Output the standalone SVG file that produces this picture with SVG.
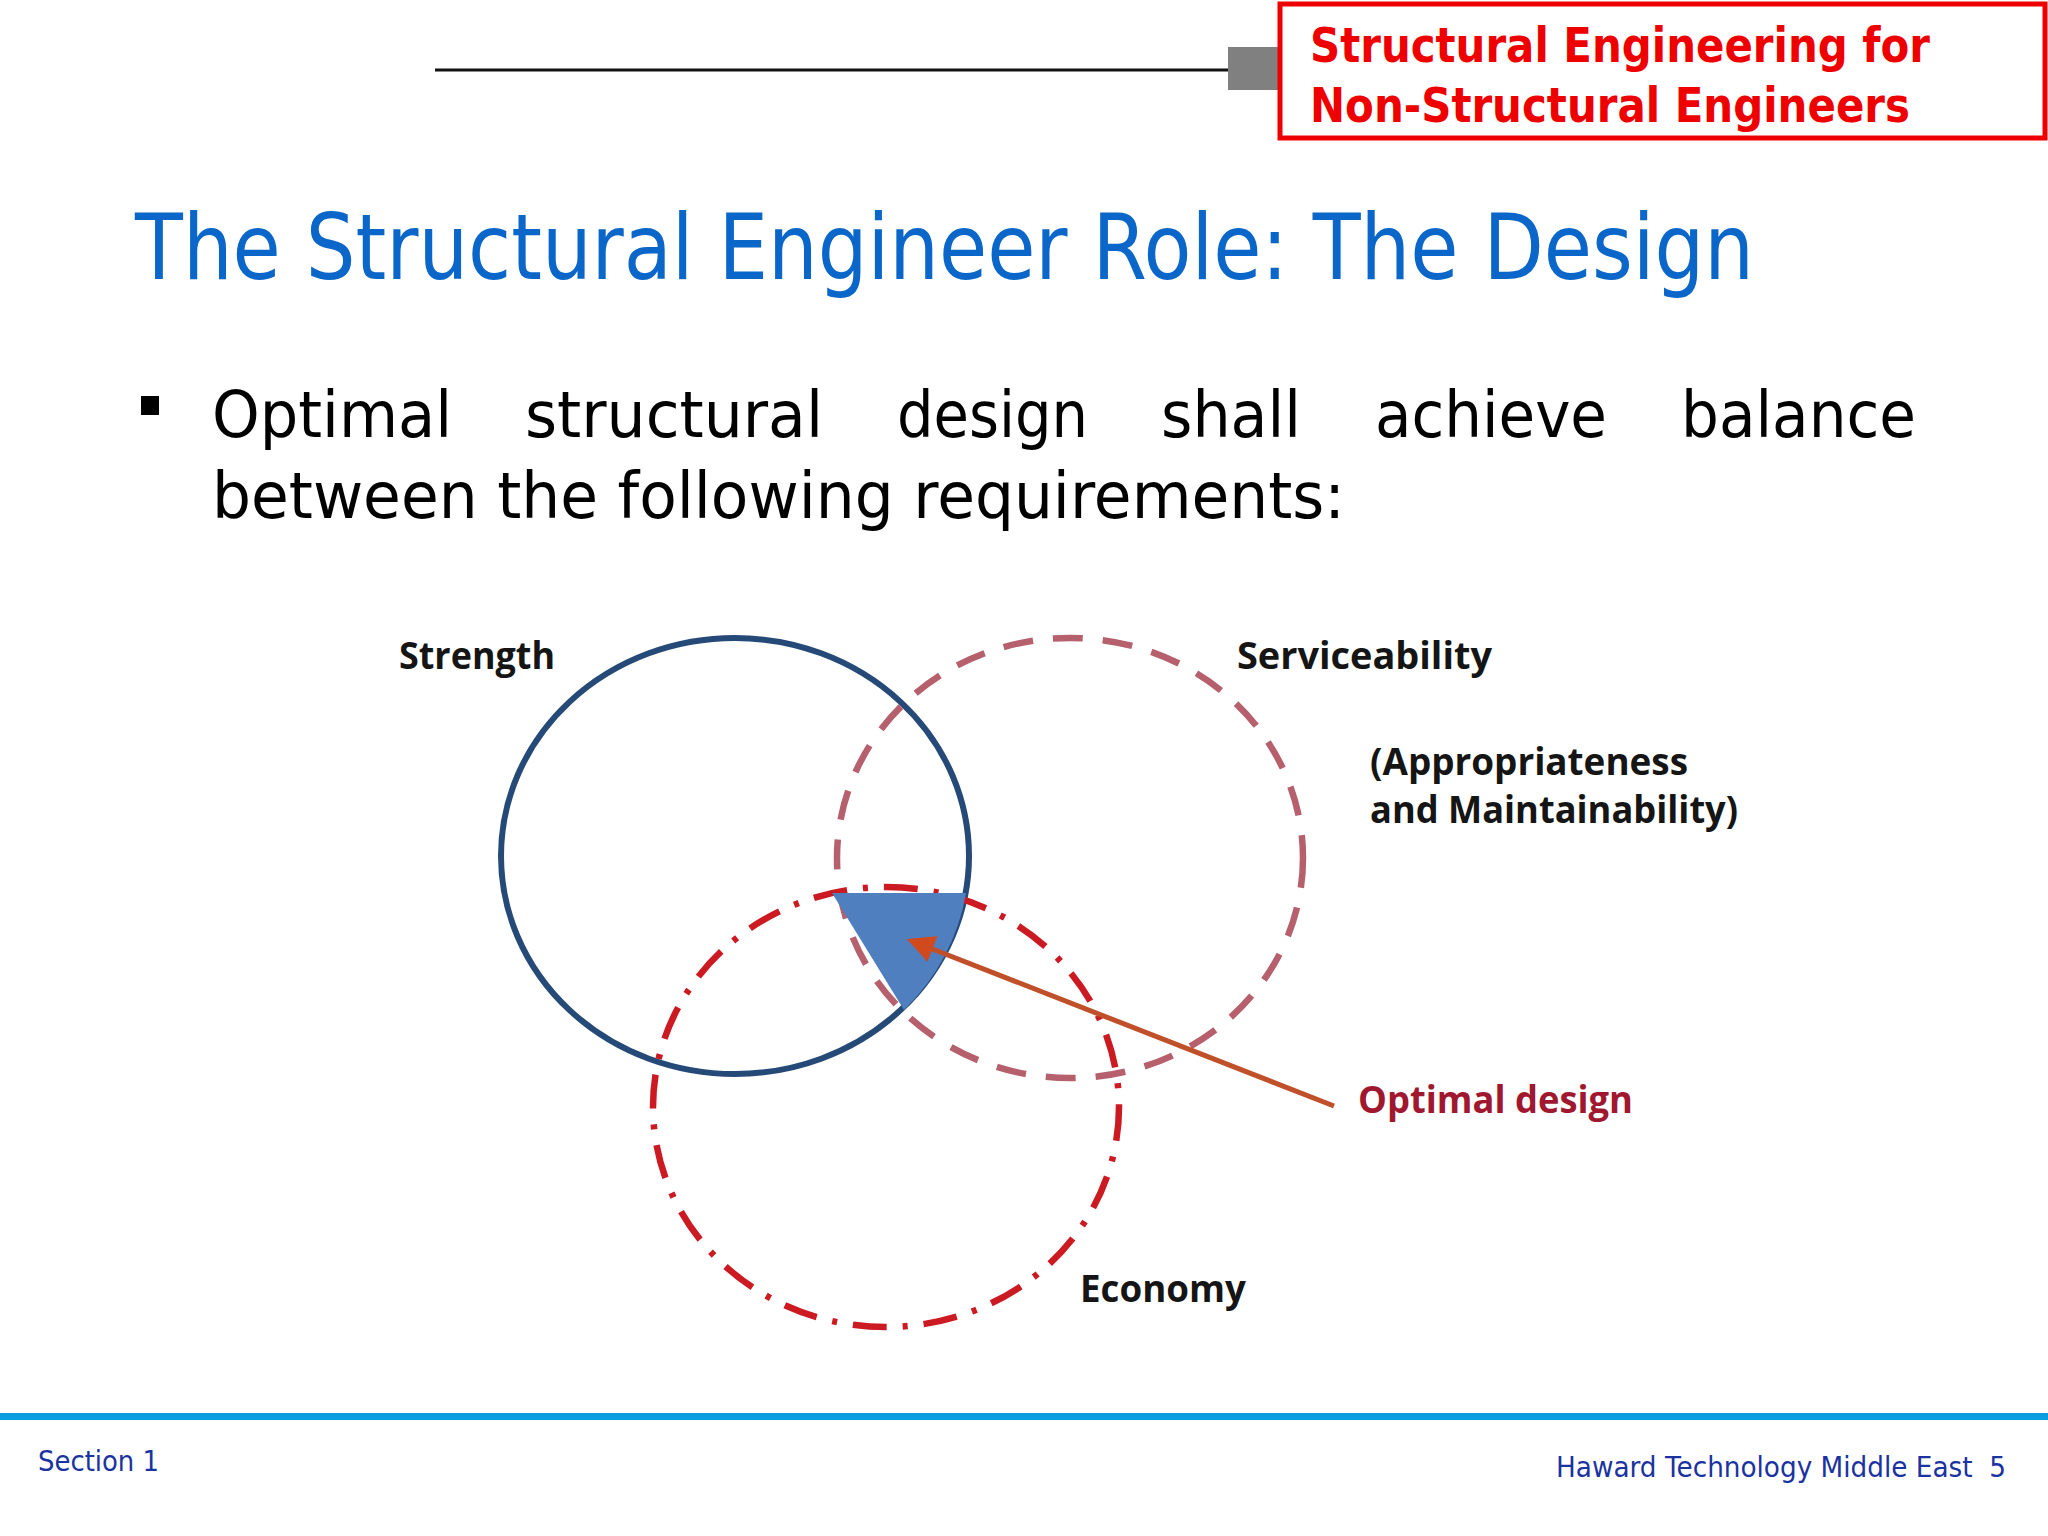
<svg xmlns="http://www.w3.org/2000/svg" width="2048" height="1536" viewBox="0 0 2048 1536">
<defs>
<style>
.tah{font-family:"DejaVu Sans","Liberation Sans",sans-serif;}
.hdr{font-weight:bold;font-size:48px;fill:#ee0000;}
.title{font-size:90px;fill:#0a66c8;}
.body{font-size:64px;fill:#000;}
.lbl{font-family:"Open Sans","Noto Sans","Liberation Sans",sans-serif;font-weight:700;font-size:37px;fill:#151515;}
.foot{font-size:28px;fill:#1a33a0;}
</style>
<marker id="arr" viewBox="0 0 10 10" refX="8" refY="5" markerWidth="5.5" markerHeight="5.5" orient="auto" markerUnits="strokeWidth">
<path d="M0,0 L10,5 L0,10 Z" fill="#d04a1e"/>
</marker>
</defs>
<rect width="2048" height="1536" fill="#ffffff"/>

<g id="header">
<line x1="435" y1="70" x2="1230" y2="70" stroke="#111" stroke-width="3"/>
<rect x="1228" y="47" width="50" height="43" fill="#808080"/>
<rect x="1280" y="4" width="765" height="134" fill="#fff" stroke="#ee0000" stroke-width="5"/>
<text class="tah hdr" x="1310" y="62" textLength="620" lengthAdjust="spacingAndGlyphs">Structural Engineering for</text>
<text class="tah hdr" x="1310" y="122" textLength="600" lengthAdjust="spacingAndGlyphs">Non-Structural Engineers</text>
</g>

<g id="title">
<text class="tah title" x="135" y="279" textLength="1619" lengthAdjust="spacingAndGlyphs">The Structural Engineer Role: The Design</text>
</g>

<g id="bullet">
<rect x="141" y="396" width="18" height="19" fill="#000"/>
<text class="tah body" x="212" y="437" textLength="240" lengthAdjust="spacingAndGlyphs">Optimal</text>
<text class="tah body" x="525" y="437" textLength="298" lengthAdjust="spacingAndGlyphs">structural</text>
<text class="tah body" x="897" y="437" textLength="191" lengthAdjust="spacingAndGlyphs">design</text>
<text class="tah body" x="1161" y="437" textLength="140" lengthAdjust="spacingAndGlyphs">shall</text>
<text class="tah body" x="1375" y="437" textLength="232" lengthAdjust="spacingAndGlyphs">achieve</text>
<text class="tah body" x="1681" y="437" textLength="235" lengthAdjust="spacingAndGlyphs">balance</text>
<text class="tah body" x="212" y="518" textLength="1133" lengthAdjust="spacingAndGlyphs">between the following requirements:</text>
</g>

<g id="strength">
<ellipse cx="735" cy="856" rx="234" ry="218" fill="none" stroke="#264a78" stroke-width="6"/>
<text class="lbl" x="399" y="669" textLength="156" lengthAdjust="spacingAndGlyphs">Strength</text>
</g>

<g id="serviceability">
<ellipse cx="1070" cy="858" rx="233" ry="220" fill="none" stroke="#b5606c" stroke-width="6.5" stroke-dasharray="30 20"/>
<text class="lbl" x="1237" y="669" textLength="255" lengthAdjust="spacingAndGlyphs">Serviceability</text>
<text class="lbl" x="1370" y="775" textLength="318" lengthAdjust="spacingAndGlyphs">(Appropriateness</text>
<text class="lbl" x="1370" y="823" textLength="368" lengthAdjust="spacingAndGlyphs">and Maintainability)</text>
</g>

<g id="economy">
<ellipse cx="886" cy="1107" rx="233" ry="220" fill="none" stroke="#cc1a22" stroke-width="6.5" stroke-dasharray="34 16 5 16"/>
<text class="lbl" x="1080" y="1302" textLength="166" lengthAdjust="spacingAndGlyphs">Economy</text>
</g>

<g id="optimal">
<path d="M832,893 L966,893 A234,218 0 0 1 904,1010 Z" fill="#4f7fbe"/>
<text class="lbl" x="1358" y="1113" textLength="275" lengthAdjust="spacingAndGlyphs" style="fill:#a01830">Optimal design</text>
</g>

<g id="connectors">
<line x1="1334" y1="1106" x2="912" y2="941" stroke="#c0502a" stroke-width="5" marker-end="url(#arr)"/>
</g>

<g id="footer">
<rect x="0" y="1413" width="2048" height="7" fill="#0a9ee0"/>
<text class="tah foot" x="38" y="1471" textLength="121" lengthAdjust="spacingAndGlyphs">Section 1</text>
<text class="tah foot" x="1556" y="1477" textLength="450" lengthAdjust="spacingAndGlyphs" xml:space="preserve">Haward Technology Middle East  5</text>
</g>
</svg>
